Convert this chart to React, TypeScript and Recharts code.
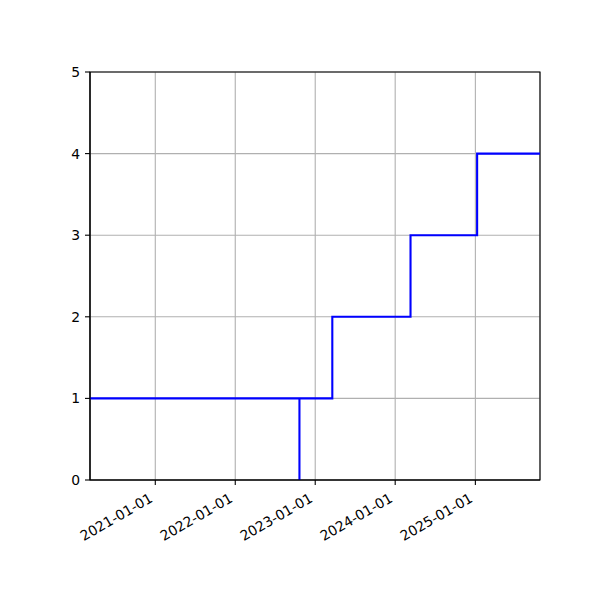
import React from "react";
import { LineChart, Line, XAxis, YAxis, CartesianGrid, ReferenceArea } from "recharts";

// step data: the dip to 0 is a single instant before the first step up
const stepDates = ["2020-03-09", "2022-10-21", "2022-10-21", "2023-03-20", "2024-03-11", "2025-01-09", "2025-10-23"];
const stepValues = [1, 0, 1, 2, 3, 4, 4];

const xTickDates = ["2021-01-01", "2022-01-01", "2023-01-01", "2024-01-01", "2025-01-01"];
const yTicks = [0, 1, 2, 3, 4, 5];

const toTime = (d: string) => Date.parse(d + "T00:00:00Z");

const chartData = stepDates.map((d, i) => ({ t: toTime(d), value: stepValues[i] }));
const xTicks = xTickDates.map(toTime);
const xMin = toTime(stepDates[0]);
const xMax = toTime(stepDates[stepDates.length - 1]);

const FONT = "DejaVu Sans, sans-serif";

const fmtDate = (t: number) => new Date(t).toISOString().slice(0, 10);

const XTick = (props: any) => {
  const { x, y, payload } = props;
  return (
    <text
      transform={`translate(${x - 1.6},${y + 11}) rotate(-30)`}
      textAnchor="end"
      fontSize={13.9}
      fontFamily={FONT}
      fill="#000"
    >
      {fmtDate(payload.value)}
    </text>
  );
};

const YTick = (props: any) => {
  const { x, y, payload } = props;
  return (
    <text x={x} y={y} dy="0.36em" textAnchor="end" fontSize={13.9} fontFamily={FONT} fill="#000">
      {payload.value}
    </text>
  );
};

const App: React.FC = () => {
  return (
    <div style={{ position: "absolute", left: 0, top: 0, width: 600, height: 600, background: "#fff" }}>
      <LineChart width={600} height={600} data={chartData} margin={{ top: 72, right: 60, bottom: 0, left: 0 }}>
        <CartesianGrid stroke="#b0b0b0" strokeWidth={1.1} />
        <XAxis
          dataKey="t"
          type="number"
          domain={[xMin, xMax]}
          ticks={xTicks}
          interval={0}
          allowDataOverflow
          height={120}
          tickSize={5}
          tickMargin={5}
          tick={<XTick />}
          axisLine={{ stroke: "#000", strokeWidth: 1.1 }}
          tickLine={{ stroke: "#000", strokeWidth: 1.1 }}
        />
        <YAxis
          type="number"
          domain={[0, 5]}
          ticks={yTicks}
          interval={0}
          width={90}
          tickSize={5}
          tickMargin={5}
          tick={<YTick />}
          axisLine={{ stroke: "#000", strokeWidth: 1.1 }}
          tickLine={{ stroke: "#000", strokeWidth: 1.1 }}
        />
        <ReferenceArea x1={xMin} x2={xMax} y1={0} y2={5} fill="none" stroke="#000" strokeWidth={1.1} />
        <Line
          dataKey="value"
          type="stepAfter"
          stroke="#0000ff"
          strokeWidth={2.1}
          dot={false}
          isAnimationActive={false}
        />
      </LineChart>
    </div>
  );
};

export default App;
